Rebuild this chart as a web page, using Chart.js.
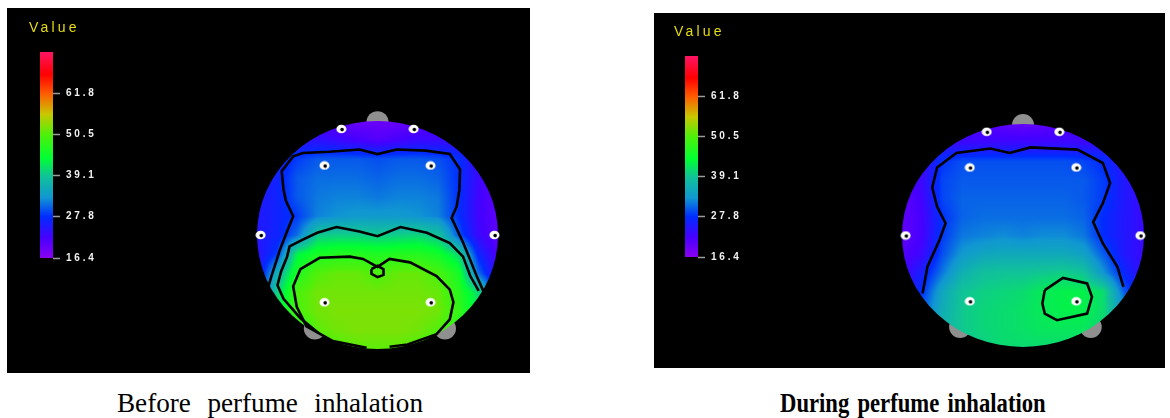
<!DOCTYPE html>
<html>
<head>
<meta charset="utf-8">
<script src="https://cdn.jsdelivr.net/npm/chart.js@4.4.1/dist/chart.umd.min.js"></script>
<style>
  html, body { margin: 0; padding: 0; background: #fff; width: 1170px; height: 418px; overflow: hidden; }
  .panel { position: absolute; background: #000; }
  canvas { position: absolute; }
  .cap { position: absolute; font-family: "Liberation Serif", "DejaVu Serif", serif; font-size: 28px; color: #000; white-space: nowrap; transform-origin: 0 0; }
</style>
</head>
<body>
<div class="panel" style="left:7px;top:8px;width:523px;height:365px"></div>
<div class="panel" style="left:654px;top:13px;width:511px;height:355px"></div>
<canvas id="barBefore"></canvas>
<canvas id="headBefore"></canvas>
<canvas id="barDuring"></canvas>
<canvas id="headDuring"></canvas>
<div class="cap" id="capBefore" style="left:117px;top:387px;transform:scaleX(0.97);word-spacing:10px;">Before perfume inhalation</div>
<div class="cap" id="capDuring" style="left:780px;top:387px;font-weight:bold;transform:scaleX(0.81);word-spacing:3px;">During perfume inhalation</div>

<script>
// ---- scale / colour bar ----
const colorTicks = [16.4, 27.8, 39.1, 50.5, 61.8];
const colorMin = 16.4;
const colorMax = 73.2;

// ---- grid positions (normalised head coordinates, left→right and top→bottom) ----
const gridU = [-1, -0.833, -0.667, -0.5, -0.333, -0.167, 0, 0.167, 0.333, 0.5, 0.667, 0.833, 1];
const gridV = [1, 0.833, 0.667, 0.5, 0.333, 0.167, 0, -0.167, -0.333, -0.5, -0.667, -0.833, -1];

// ---- topography values, before inhalation ----
const beforeValues = [
  [24, 23, 22, 21, 20, 19, 19, 19, 20, 21, 22, 22, 22],
  [25, 25, 24, 24, 23, 22, 21, 22, 23, 23, 23, 22, 21],
  [25, 26, 28.5, 30, 30, 30, 29.5, 30, 30, 29.5, 28, 23, 21],
  [25, 26.5, 30, 31, 31, 31, 30.5, 31, 31, 30.5, 28, 23, 20],
  [25, 26.5, 30, 31.5, 32, 32, 31.5, 32, 32, 31.5, 28, 22.5, 20],
  [25, 26.5, 28.5, 32, 33, 33.5, 33.5, 33.5, 33, 32, 28, 22.5, 20],
  [25, 26.5, 31, 39.5, 40, 40, 39.5, 40, 40.5, 39, 30, 23, 20],
  [24, 28.5, 43, 46, 47, 47, 46.5, 47, 47, 45.5, 41, 27, 21],
  [24, 36, 46.5, 50.5, 51.5, 51.5, 50, 51.5, 51.5, 50, 46, 31, 22],
  [27, 40, 50, 52, 52, 52, 52, 52, 52, 51.5, 47.5, 41, 27],
  [32, 42, 50, 52, 52.5, 52.5, 52.5, 52.5, 52.5, 52, 48.5, 42, 33],
  [36, 43, 46, 51, 52, 52.5, 52.5, 52.5, 52, 50.5, 47, 43, 36],
  [40, 43, 46, 48, 50, 51, 51, 51, 50, 48, 46, 43, 40]
];

// ---- topography values, during inhalation ----
const duringValues = [
  [24, 23, 22, 21, 20.5, 20, 19.5, 20, 20.5, 21, 22, 23, 24],
  [24, 24, 23.5, 23, 23, 23, 23, 23, 23, 23, 23.5, 24, 24],
  [22, 23, 28, 29.5, 29.5, 29.5, 29.5, 29.5, 29.5, 29, 27.5, 24, 23],
  [21, 23, 29, 30, 30, 30, 30, 30, 30, 30, 28.5, 25, 23],
  [20, 22.5, 29, 30.5, 30.5, 30.5, 30.5, 30.5, 30.5, 30, 28.5, 25, 23],
  [20, 22, 28, 30.5, 31, 31, 31, 31, 31, 30.5, 27.5, 25, 23],
  [20, 22, 28.5, 31.5, 32, 32.5, 32, 32.5, 32.5, 31.5, 27.5, 25, 23],
  [21, 23, 29.5, 33.5, 35, 35.5, 35.5, 35.5, 35.5, 34.5, 30, 25, 23],
  [22, 26, 31.5, 36.5, 38.5, 39, 39, 39.5, 40, 39, 33, 27, 23],
  [24, 28, 35, 39, 40, 40.5, 41, 42.3, 42.8, 42.8, 41, 30, 25],
  [26, 30, 36, 39.5, 40.5, 41, 41.5, 42.3, 42.8, 42.8, 41, 33, 27],
  [28, 32, 37, 39.5, 40.5, 41, 41.5, 42, 42, 42, 40.5, 35, 30],
  [30, 34, 37, 39, 40, 41, 41, 41, 41, 41, 40, 37, 33]
];

// ---- electrode sites (normalised) ----
const electrodeSites = [
  [-0.30, 0.93], [0.30, 0.93], [-0.44, 0.61], [0.44, 0.61],
  [-0.97, 0], [0.97, 0], [-0.44, -0.59], [0.44, -0.59]
];
// nose and ear landmarks drawn behind the scalp
const landmarkSites = [[0, 0.99], [-0.52, -0.82], [0.56, -0.82]];

// ---- contour lines, before inhalation ----
const beforeOuterContour = [
  [-0.905, -0.45], [-0.88, -0.36], [-0.81, -0.13], [-0.755, 0.02], [-0.70, 0.165], [-0.76, 0.30],
  [-0.78, 0.40], [-0.795, 0.56], [-0.70, 0.69], [-0.62, 0.72], [-0.40, 0.73], [-0.15, 0.75],
  [0, 0.71], [0.16, 0.75], [0.40, 0.74], [0.60, 0.71], [0.685, 0.575], [0.68, 0.40],
  [0.657, 0.25], [0.615, 0.15], [0.712, -0.07], [0.77, -0.22], [0.823, -0.36], [0.878, -0.49]
];
const beforeMiddleContour = [
  [-0.49, -0.86], [-0.64, -0.73], [-0.78, -0.56], [-0.83, -0.44], [-0.80, -0.32], [-0.75, -0.19],
  [-0.73, -0.10], [-0.62, -0.04], [-0.50, 0.02], [-0.34, 0.07], [-0.15, 0.03], [0, -0.01],
  [0.19, 0.07], [0.41, 0.02], [0.60, -0.07], [0.71, -0.19], [0.77, -0.36], [0.84, -0.49]
];
const beforeInnerContour = [
  [-0.09, -0.99], [-0.37, -0.93], [-0.59, -0.80], [-0.67, -0.63], [-0.70, -0.45], [-0.64, -0.30],
  [-0.48, -0.20], [-0.23, -0.19], [-0.12, -0.21], [0, -0.28], [0.10, -0.21], [0.27, -0.24],
  [0.49, -0.36], [0.60, -0.48], [0.63, -0.59], [0.60, -0.74], [0.49, -0.87], [0.25, -0.96], [0.10, -0.98]
];
const beforeSmallContour = [
  [-0.05, -0.30], [0, -0.27], [0.05, -0.30], [0.05, -0.35], [0, -0.37], [-0.05, -0.34], [-0.05, -0.30]
];

// ---- contour lines, during inhalation ----
const duringOuterContour = [
  [-0.83, -0.52], [-0.79, -0.28], [-0.69, -0.04], [-0.64, 0.11], [-0.71, 0.26], [-0.75, 0.43],
  [-0.71, 0.61], [-0.55, 0.74], [-0.27, 0.78], [-0.11, 0.74], [0.06, 0.79], [0.45, 0.77],
  [0.66, 0.65], [0.72, 0.47], [0.66, 0.29], [0.58, 0.12], [0.66, -0.07], [0.78, -0.28], [0.83, -0.46]
];
const duringLoopContour = [
  [0.18, -0.49], [0.33, -0.38], [0.53, -0.43], [0.57, -0.55], [0.53, -0.70],
  [0.28, -0.76], [0.18, -0.70], [0.16, -0.61], [0.18, -0.49]
];

// ---- colour map (value -> colour) ----
const colorStops = [
  [16.4, [138, 0, 240]], [22, [70, 0, 255]], [27.8, [0, 44, 255]], [33, [16, 150, 210]],
  [39.1, [16, 196, 150]], [44, [0, 255, 50]], [50.5, [80, 240, 10]], [56, [200, 200, 0]],
  [61.8, [255, 90, 0]], [67, [255, 0, 0]], [73.2, [255, 20, 100]]
];

function colorFor(v) {
  if (v <= colorStops[0][0]) return colorStops[0][1];
  for (let i = 1; i < colorStops.length; i++) {
    const [v1, c1] = colorStops[i];
    if (v <= v1) {
      const [v0, c0] = colorStops[i - 1];
      const t = (v - v0) / (v1 - v0);
      return [0, 1, 2].map(k => Math.round(c0[k] + (c1[k] - c0[k]) * t));
    }
  }
  return colorStops[colorStops.length - 1][1];
}

// small white electrode marker with a dark centre
function electrodeMarker() {
  const c = document.createElement('canvas');
  c.width = 11; c.height = 10;
  const g = c.getContext('2d');
  g.fillStyle = '#fff';
  g.beginPath(); g.ellipse(5.5, 5, 5, 4.3, 0, 0, Math.PI * 2); g.fill();
  g.fillStyle = '#000';
  g.beginPath(); g.arc(6.2, 5.6, 1.8, 0, Math.PI * 2); g.fill();
  return c;
}
const marker = electrodeMarker();

// Letter spacing for the bitmap-like labels
const spacingPlugin = {
  id: 'letterSpacing',
  beforeDraw(chart, args, opts) { chart.ctx.letterSpacing = opts.value || '0px'; }
};

// Colour-bar caption drawn above the bar
const barCaptionPlugin = {
  id: 'barCaption',
  afterDraw(chart, args, opts) {
    const ctx = chart.ctx, ca = chart.chartArea;
    ctx.save();
    ctx.letterSpacing = opts.spacing;
    ctx.fillStyle = opts.color;
    ctx.font = opts.font;
    ctx.textBaseline = 'middle';
    ctx.fillText(opts.text, ca.left + opts.dx, ca.top + opts.dy);
    ctx.restore();
  }
};

// Scalp shading: painted right after the landmark dataset so it covers them
const scalpPlugin = {
  id: 'scalp',
  afterDatasetDraw(chart, args, opts) {
    if (args.index !== opts.underIndex) return;
    const xs = chart.scales.x, ys = chart.scales.y, ctx = chart.ctx;
    const grid = opts.values;
    const cx = xs.getPixelForValue(0), cy = ys.getPixelForValue(0);
    const rx = xs.getPixelForValue(1) - cx, ry = cy - ys.getPixelForValue(1);
    const x0 = Math.floor(cx - rx) - 1, y0 = Math.floor(cy - ry) - 1;
    const w = Math.ceil(2 * rx) + 3, h = Math.ceil(2 * ry) + 3;
    const off = document.createElement('canvas');
    off.width = w; off.height = h;
    const octx = off.getContext('2d');
    const img = octx.createImageData(w, h);
    const nU = gridU.length, nV = gridV.length;
    const du = gridU[1] - gridU[0], dv = gridV[0] - gridV[1];
    for (let py = 0; py < h; py++) {
      const v = ys.getValueForPixel(y0 + py + 0.5);
      let fi = (gridV[0] - v) / dv; fi = Math.max(0, Math.min(nV - 1.0001, fi));
      const i0 = Math.floor(fi), ti = fi - i0;
      for (let px = 0; px < w; px++) {
        const u = xs.getValueForPixel(x0 + px + 0.5);
        let fj = (u - gridU[0]) / du; fj = Math.max(0, Math.min(nU - 1.0001, fj));
        const j0 = Math.floor(fj), tj = fj - j0;
        const val = grid[i0][j0] * (1 - ti) * (1 - tj) + grid[i0][j0 + 1] * (1 - ti) * tj +
                    grid[i0 + 1][j0] * ti * (1 - tj) + grid[i0 + 1][j0 + 1] * ti * tj;
        const c = colorFor(val);
        const k = (py * w + px) * 4;
        img.data[k] = c[0]; img.data[k + 1] = c[1]; img.data[k + 2] = c[2]; img.data[k + 3] = 255;
      }
    }
    octx.putImageData(img, 0, 0);
    ctx.save();
    ctx.beginPath();
    ctx.ellipse(cx, cy, rx, ry, 0, 0, Math.PI * 2);
    ctx.clip();
    ctx.drawImage(off, x0, y0);
    ctx.restore();
  }
};

const toXY = arr => arr.map(([x, y]) => ({ x, y }));

function contourSet(points) {
  return {
    type: 'line', data: toXY(points), borderColor: '#000', borderWidth: 2.6,
    pointRadius: 0, tension: 0, clip: false, fill: false
  };
}

function makeColorBar(id, box) {
  const cv = document.getElementById(id);
  cv.style.left = box.left + 'px'; cv.style.top = box.top + 'px';
  cv.width = box.width; cv.height = box.height;
  return new Chart(cv, {
    type: 'bar',
    data: {
      labels: [''],
      datasets: [{
        data: [[colorMin, colorMax]],
        barPercentage: 1, categoryPercentage: 1, borderWidth: 0,
        backgroundColor(ctx) {
          const chart = ctx.chart;
          if (!chart.chartArea) return '#000';
          const ys = chart.scales.y;
          const g = chart.ctx.createLinearGradient(0, ys.getPixelForValue(colorMin), 0, ys.getPixelForValue(colorMax));
          colorStops.forEach(([v, c]) => g.addColorStop((v - colorMin) / (colorMax - colorMin), `rgb(${c[0]},${c[1]},${c[2]})`));
          return g;
        }
      }]
    },
    options: {
      responsive: false, animation: false, devicePixelRatio: 1,
      layout: { padding: box.padding },
      plugins: {
        legend: { display: false }, tooltip: { enabled: false },
        letterSpacing: { value: '2.8px' },
        barCaption: {
          text: 'Value', color: '#e6dc10', spacing: '3.2px',
          font: '14px "Liberation Sans", Arial, sans-serif', dx: -11, dy: -24
        }
      },
      scales: {
        x: { display: false },
        y: {
          position: 'right', min: colorMin, max: colorMax,
          afterBuildTicks(scale) { scale.ticks = colorTicks.map(v => ({ value: v })); },
          afterFit(scale) { scale.width = box.axisWidth; },
          border: { display: false },
          grid: { drawOnChartArea: false, drawTicks: true, tickLength: box.tickLength, tickColor: '#9c9c9c', tickWidth: 1.5 },
          ticks: {
            color: '#f2f2f2', padding: 6, autoSkip: false,
            font: { family: '"Liberation Sans", Arial, sans-serif', size: 10, weight: 'bold' },
            callback: v => Number(v).toFixed(1)
          }
        }
      }
    },
    plugins: [spacingPlugin, barCaptionPlugin]
  });
}

function makeHead(id, box, values, contours) {
  const cv = document.getElementById(id);
  cv.style.left = box.left + 'px'; cv.style.top = box.top + 'px';
  cv.width = box.width; cv.height = box.height;
  const datasets = [
    {
      type: 'scatter', data: toXY(electrodeSites), pointStyle: marker,
      pointRadius: 5, clip: false
    },
    ...contours.map(contourSet),
    {
      type: 'scatter', data: toXY(landmarkSites), pointStyle: 'circle',
      pointRadius: 11, backgroundColor: '#8f8f8f', borderWidth: 0, clip: false
    }
  ];
  return new Chart(cv, {
    type: 'scatter',
    data: { datasets },
    options: {
      responsive: false, animation: false, devicePixelRatio: 1,
      layout: { padding: box.padding },
      plugins: {
        legend: { display: false }, tooltip: { enabled: false },
        scalp: { values, underIndex: datasets.length - 1 }
      },
      scales: {
        x: { type: 'linear', min: -1, max: 1, display: false },
        y: { type: 'linear', min: -1, max: 1, display: false }
      }
    },
    plugins: [scalpPlugin]
  });
}

// Panel 1: before inhalation
makeColorBar('barBefore', {
  left: 7, top: 8, width: 120, height: 270, axisWidth: 60, tickLength: 7,
  padding: { left: 33, right: 14, top: 44, bottom: 20 }
});
makeHead('headBefore', {
  left: 7, top: 8, width: 523, height: 365,
  padding: { left: 250, right: 32, top: 113, bottom: 24 }
}, beforeValues, [beforeOuterContour, beforeMiddleContour, beforeInnerContour, beforeSmallContour]);

// Panel 2: during inhalation
makeColorBar('barDuring', {
  left: 654, top: 13, width: 120, height: 265, axisWidth: 60, tickLength: 7,
  padding: { left: 31, right: 16, top: 43, bottom: 21 }
});
makeHead('headDuring', {
  left: 654, top: 13, width: 511, height: 355,
  padding: { left: 248, right: 21, top: 111, bottom: 21 }
}, duringValues, [duringOuterContour, duringLoopContour]);
</script>
</body>
</html>
